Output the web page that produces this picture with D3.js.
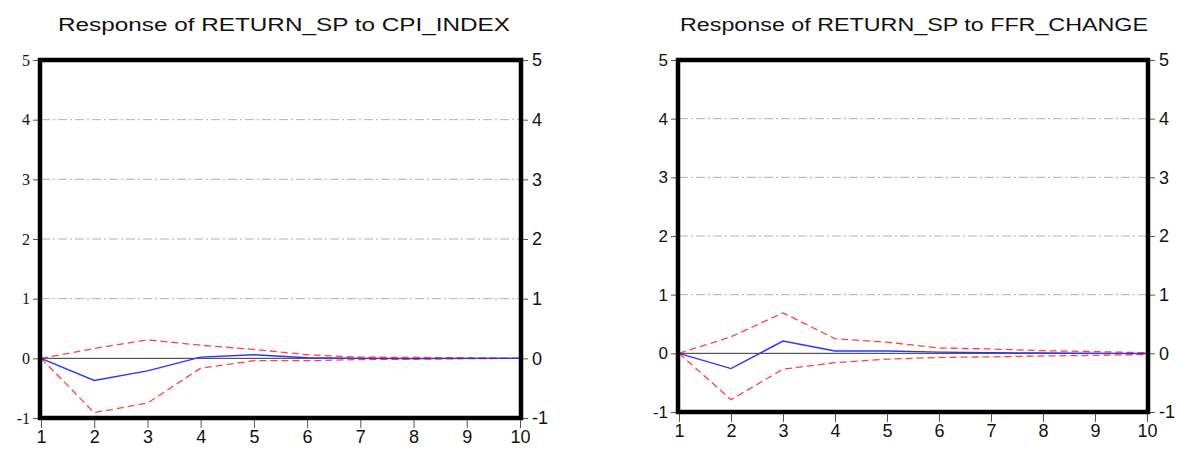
<!DOCTYPE html>
<html><head><meta charset="utf-8">
<script src="https://cdn.jsdelivr.net/npm/d3@7"></script>
<style>body{margin:0;background:#fff}svg{display:block}</style>
</head><body><svg id="c" width="1178" height="450"></svg>
<script>
const periods = [1,2,3,4,5,6,7,8,9,10];
const yTicks = [-1,0,1,2,3,4,5];
const titles = ["Response of RETURN_SP to CPI_INDEX", "Response of RETURN_SP to FFR_CHANGE"];
const cpiResp  = [0,-0.37,-0.21,0.02,0.06,0.01,0.0,-0.005,0,0];
const cpiUpper = [0,0.165,0.31,0.22,0.15,0.06,0.02,0.015,0.01,0];
const cpiLower = [0,-0.91,-0.75,-0.165,-0.04,-0.04,-0.02,-0.015,-0.005,0];
const ffrResp  = [0,-0.26,0.21,0.04,0.04,0.02,0.01,0.005,0,-0.005];
const ffrUpper = [0,0.28,0.69,0.25,0.19,0.09,0.075,0.045,0.03,0.01];
const ffrLower = [0,-0.79,-0.27,-0.16,-0.10,-0.07,-0.06,-0.045,-0.035,-0.02];

const svg = d3.select("#c");
const panels = [
  {title: titles[0], resp: cpiResp, up: cpiUpper, lo: cpiLower, x0: 41, x1: 520, y0: 418, y1: 60, tx: 284, tw: 452, leftFont: "'Liberation Serif', serif", leftSize: 16},
  {title: titles[1], resp: ffrResp, up: ffrUpper, lo: ffrLower, x0: 679, x1: 1147, y0: 412, y1: 60, tx: 914, tw: 468, leftFont: "'Liberation Sans', Arial, sans-serif", leftSize: 17}
];
const sans = "'Liberation Sans', Arial, sans-serif";
const fmt = d => String(d);

panels.forEach(p => {
  const x = d3.scaleLinear().domain([1,10]).range([p.x0, p.x1]);
  const y = d3.scaleLinear().domain([-1,5]).range([p.y0, p.y1]);
  const g = svg.append("g");

  g.append("text").attr("x", p.tx).attr("y", 31).attr("text-anchor","middle")
    .attr("font-family", sans).attr("font-size", 18).attr("fill","#111")
    .attr("textLength", p.tw).attr("lengthAdjust","spacingAndGlyphs").text(p.title);

  // gridlines
  g.selectAll(".grid").data(yTicks.filter(v => v > 0 && v < 5)).enter().append("line")
    .attr("x1", p.x0).attr("x2", p.x1).attr("y1", d => y(d)).attr("y2", d => y(d))
    .attr("stroke", "#b0b0b0").attr("stroke-width", 1).attr("stroke-dasharray", "9,3,2,3");
  // zero line
  g.append("line").attr("x1", p.x0).attr("x2", p.x1).attr("y1", y(0)).attr("y2", y(0))
    .attr("stroke", "#333").attr("stroke-width", 1);

  // axes
  const left = d3.axisLeft(y).tickValues(yTicks).tickSize(6).tickPadding(3).tickFormat(fmt);
  const right = d3.axisRight(y).tickValues(yTicks).tickSize(6).tickPadding(4).tickFormat(fmt);
  const bottom = d3.axisBottom(x).tickValues(periods).tickSize(8).tickPadding(2).tickFormat(fmt);
  const la = g.append("g").attr("transform", `translate(${p.x0-2},0)`).call(left);
  la.selectAll("text").attr("font-family", p.leftFont).attr("font-size", p.leftSize).attr("fill","#111");
  const ra = g.append("g").attr("transform", `translate(${p.x1+2},0)`).call(right);
  ra.selectAll("text").attr("font-family", sans).attr("font-size", 18).attr("fill","#111");
  const ba = g.append("g").attr("transform", `translate(0,${p.y0+2})`).call(bottom);
  ba.selectAll("text").attr("font-family", sans).attr("font-size", 18).attr("fill","#111");
  [la, ra, ba].forEach(a => { a.select(".domain").remove(); a.selectAll(".tick line").attr("stroke","#555"); });

  // lines
  const line = d3.line().x((d,i) => x(periods[i])).y(d => y(d));
  g.append("path").datum(p.up).attr("d", line).attr("fill","none")
    .attr("stroke","#ff2020").attr("stroke-width",1.3).attr("stroke-dasharray","7,4").attr("opacity",0.85);
  g.append("path").datum(p.lo).attr("d", line).attr("fill","none")
    .attr("stroke","#ff2020").attr("stroke-width",1.3).attr("stroke-dasharray","7,4").attr("opacity",0.85);
  g.append("path").datum(p.resp).attr("d", line).attr("fill","none")
    .attr("stroke","#3030ff").attr("stroke-width",1.4);

  // frame
  g.append("rect").attr("x", p.x0 - 1).attr("y", p.y1).attr("width", p.x1 - p.x0 + 2).attr("height", p.y0 - p.y1)
    .attr("fill","none").attr("stroke","#000").attr("stroke-width",4.5);
});
</script></body></html>
